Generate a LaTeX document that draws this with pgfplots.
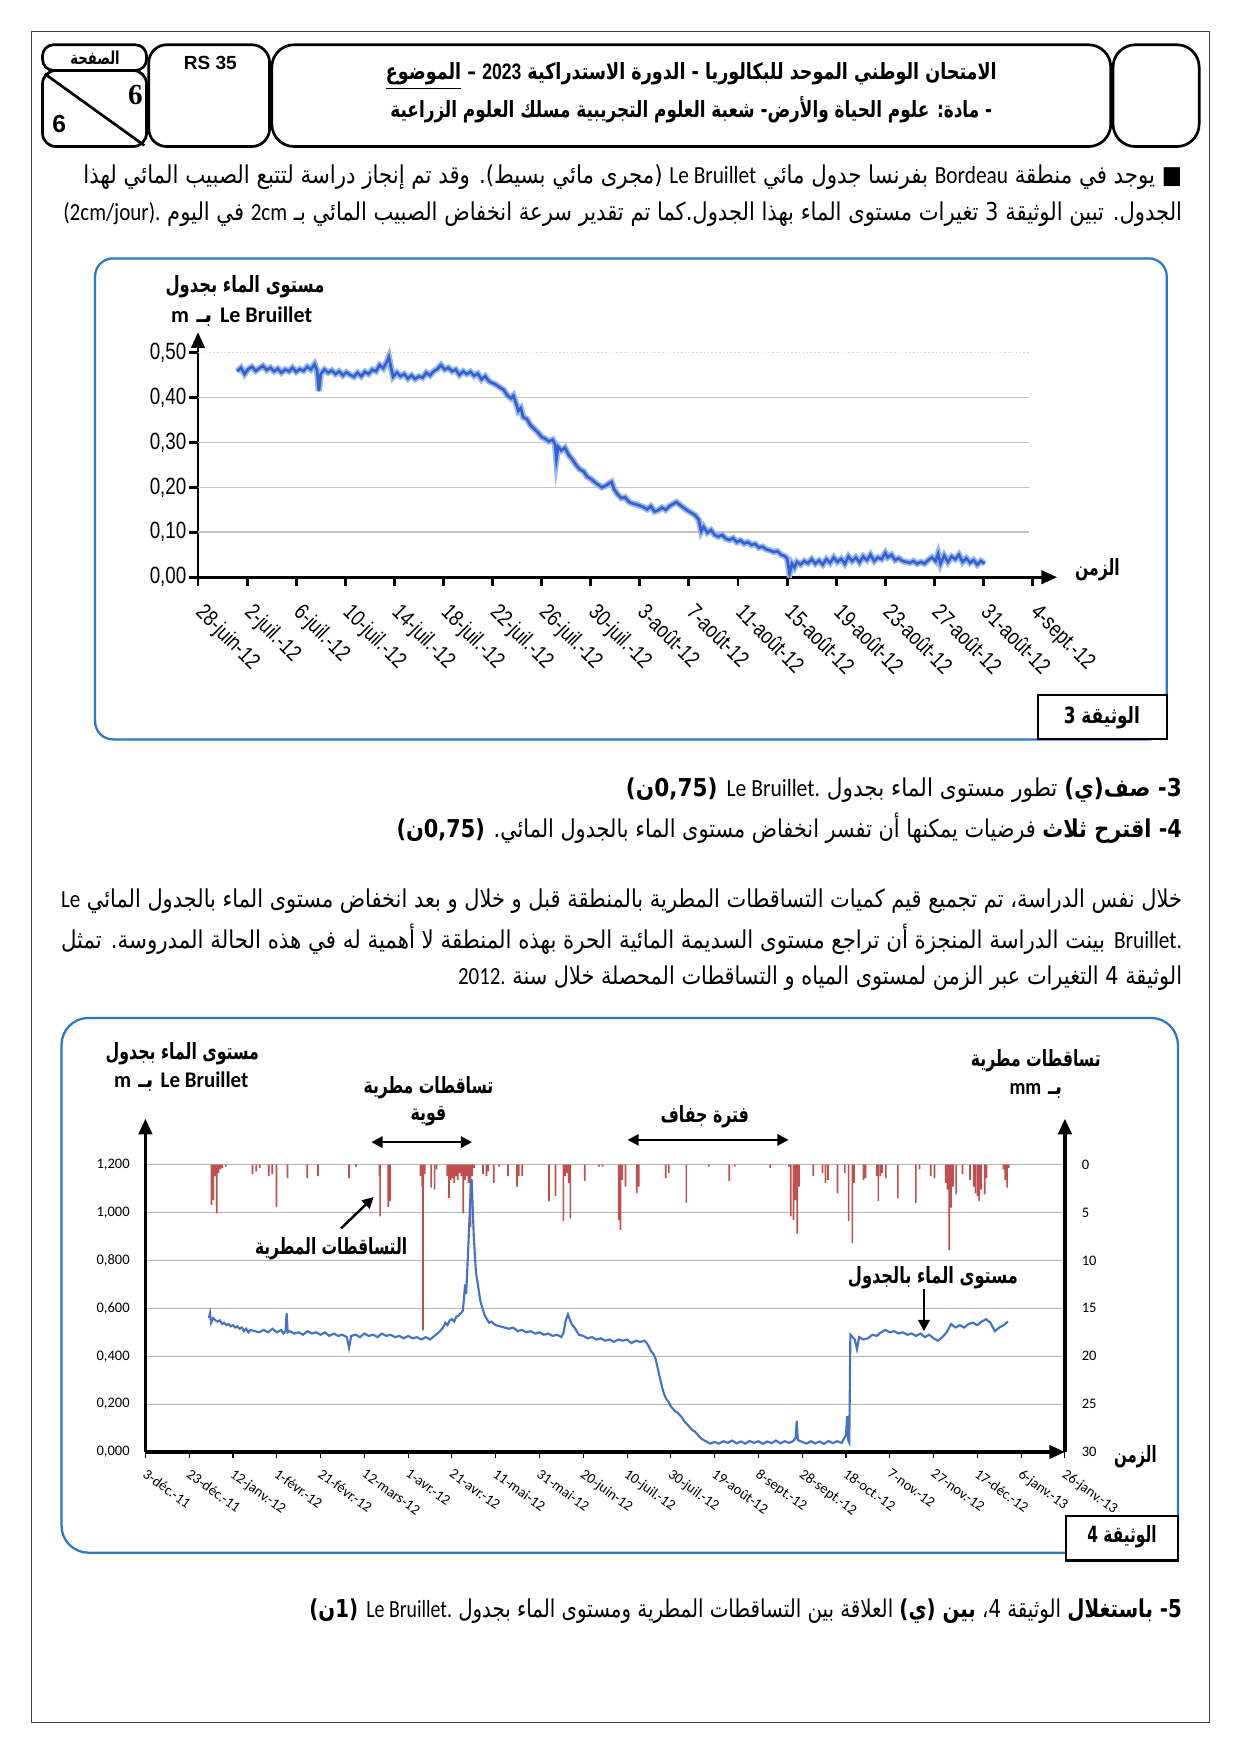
\documentclass[border=0pt]{standalone}
\usepackage{pgfplots}
\pgfplotsset{compat=1.18}
\usepackage{pgfplotstable}
\usepackage{graphicx}
\usepackage{fontspec}
\usetikzlibrary{arrows.meta}
\setmainfont{Carlito}
\newfontfamily\arabicfont[Script=Arabic]{DejaVu Sans}
\newfontfamily\latinfont{Carlito}
\newfontfamily\narrowfont[FakeStretch=0.8]{Liberation Sans}
\newfontfamily\arialfont{Liberation Sans}
\newfontfamily\timesfont{Liberation Serif}
\TeXXeTstate=1
\newcommand\LR[1]{\beginL{\latinfont #1}\endL}
\newcommand\AR[2]{\resizebox{#1}{\height}{\arabicfont #2}}
\definecolor{frameblue}{RGB}{40,120,200}
\definecolor{lineblue}{RGB}{55,95,205}
\definecolor{halo}{RGB}{150,185,240}
\definecolor{lvlblue}{RGB}{68,114,196}
\definecolor{rainred}{RGB}{192,80,77}
\definecolor{gridgray}{RGB}{195,195,195}

\pgfplotstableread{
d v
3.2 .458
3.5 .466
3.8 .452
4.1 .463
4.4 .468
4.7 .459
5.0 .465
5.3 .470
5.6 .461
5.9 .466
6.2 .458
6.5 .464
6.8 .455
7.1 .462
7.4 .458
7.7 .466
8.0 .457
8.3 .463
8.6 .459
8.9 .468
9.2 .462
9.5 .474
9.7 .460
9.85 .414
10.0 .452
10.3 .462
10.6 .455
10.9 .460
11.2 .452
11.5 .458
11.8 .449
12.1 .456
12.4 .450
12.7 .446
13.0 .455
13.3 .447
13.6 .457
13.9 .452
14.2 .462
14.5 .458
14.8 .472
15.1 .465
15.4 .480
15.55 .490
15.7 .470
15.9 .446
16.2 .455
16.5 .447
16.8 .452
17.1 .442
17.4 .449
17.7 .441
18.0 .447
18.3 .444
18.6 .455
18.9 .449
19.2 .458
19.5 .463
19.8 .472
20.1 .462
20.4 .466
20.7 .458
21.0 .462
21.3 .450
21.6 .458
21.9 .452
22.2 .457
22.5 .448
22.8 .453
23.1 .440
23.4 .447
23.7 .436
24.0 .432
24.3 .428
24.6 .422
24.9 .417
25.2 .405
25.5 .398
25.7 .404
25.9 .388
26.1 .370
26.3 .376
26.5 .356
26.8 .352
27.1 .338
27.4 .330
27.7 .322
28.0 .312
28.3 .308
28.6 .302
28.9 .306
29.1 .295
29.2 .262
29.35 .290
29.6 .282
29.9 .288
30.2 .272
30.5 .262
30.8 .250
31.1 .240
31.4 .236
31.7 .224
32.0 .219
32.3 .212
32.6 .206
32.9 .200
33.2 .203
33.5 .209
33.7 .212
33.9 .196
34.2 .184
34.5 .176
34.8 .178
35.1 .168
35.4 .164
35.7 .162
36.0 .159
36.3 .156
36.6 .151
36.9 .158
37.2 .146
37.5 .149
37.8 .155
38.1 .150
38.4 .158
38.7 .163
39.0 .167
39.3 .160
39.6 .154
39.9 .148
40.2 .143
40.5 .138
40.8 .128
41.0 .102
41.2 .112
41.5 .099
41.8 .105
42.1 .094
42.4 .090
42.7 .094
43.0 .086
43.3 .083
43.6 .087
43.9 .078
44.2 .082
44.5 .075
44.8 .078
45.1 .072
45.4 .074
45.7 .066
46.0 .068
46.3 .062
46.6 .060
46.9 .056
47.2 .058
47.5 .050
47.8 .047
48.0 .042
48.2 .008
48.4 .030
48.6 .022
48.8 .034
49.1 .028
49.4 .036
49.7 .031
50.0 .040
50.3 .030
50.6 .037
50.9 .028
51.2 .040
51.5 .032
51.8 .044
52.1 .034
52.4 .041
52.7 .030
53.0 .046
53.3 .036
53.6 .044
53.9 .033
54.2 .046
54.5 .038
54.8 .050
55.1 .036
55.4 .044
55.7 .040
56.0 .054
56.2 .044
56.5 .050
56.8 .038
57.1 .042
57.4 .036
57.7 .034
58.0 .032
58.3 .036
58.6 .030
58.9 .034
59.2 .030
59.5 .038
59.8 .044
60.1 .036
60.3 .052
60.5 .030
60.8 .048
61.1 .034
61.4 .046
61.7 .040
62.0 .050
62.3 .034
62.6 .042
62.9 .032
63.2 .038
63.5 .028
63.8 .036
64.1 .030
}\levelA

\pgfplotstableread{
d v
29 .56
29.5 .58
30 .54
31 .56
32 .55
33 .545
34 .55
35 .535
36 .54
37 .53
38 .535
39 .525
40 .53
41 .52
42 .525
43 .515
44 .52
45 .505
46 .515
47 .50
48 .51
50 .505
52 .50
54 .51
56 .50
58 .515
60 .50
62 .51
63 .495
64 .505
64.5 .58
65 .50
66 .505
68 .495
70 .50
72 .49
74 .505
76 .495
78 .50
80 .49
82 .50
84 .485
86 .495
88 .485
90 .49
92 .48
93 .435
94 .485
96 .49
98 .48
100 .495
102 .485
104 .49
106 .48
108 .495
110 .485
112 .49
114 .48
116 .485
118 .475
120 .485
122 .475
124 .48
126 .47
128 .48
130 .47
132 .485
134 .50
136 .52
137 .54
138 .53
139 .55
140 .555
141 .545
142 .565
143 .57
144 .58
145 .59
145.5 .64
146 .70
146.5 .66
147 .76
147.5 .86
148 .97
148.5 1.08
149 1.14
149.5 1.02
150 .90
150.5 .82
151 .75
152 .69
153 .63
154 .60
155 .57
156 .555
157 .54
158 .545
160 .53
162 .525
164 .52
166 .515
168 .52
170 .505
172 .51
174 .50
176 .505
178 .495
180 .50
182 .49
184 .495
186 .485
188 .49
190 .48
191 .50
192 .55
193 .575
194 .55
195 .53
196 .52
197 .505
198 .49
200 .485
202 .475
204 .48
206 .47
208 .475
210 .465
212 .47
214 .46
216 .47
218 .465
220 .47
222 .455
224 .465
226 .46
228 .465
229 .455
230 .44
231 .42
232 .41
233 .39
234 .35
235 .31
236 .27
237 .24
238 .22
239 .21
240 .19
241 .18
242 .17
243 .165
244 .155
245 .145
246 .13
247 .12
248 .11
249 .10
250 .09
251 .085
252 .075
253 .065
254 .055
255 .05
256 .045
257 .04
258 .035
260 .042
262 .035
264 .045
266 .038
268 .048
270 .036
272 .044
274 .035
276 .046
278 .038
280 .045
282 .034
284 .044
286 .037
288 .048
290 .036
292 .045
294 .038
296 .046
297 .06
297.5 .13
298 .05
300 .042
302 .035
304 .045
306 .036
308 .044
310 .034
312 .046
314 .037
316 .045
318 .038
320 .07
320.5 .15
321 .05
321.5 .04
322 .49
323 .48
324 .47
325 .43
326 .48
328 .47
330 .475
332 .49
334 .485
336 .50
338 .51
340 .50
342 .505
344 .495
346 .50
348 .49
350 .495
352 .485
354 .495
356 .48
358 .49
360 .475
362 .465
364 .48
366 .50
368 .535
370 .52
372 .53
374 .52
376 .535
378 .54
380 .53
382 .545
384 .555
386 .54
388 .505
390 .52
392 .53
394 .545
}\levelB

\pgfplotstableread{
d r
30.2 4.2
31.0 3.7
31.8 1.2
32.6 5.1
33.4 0.9
34.3 0.5
35.1 0.35
36.7 0.2
48.9 1.0
50.6 0.7
52.2 0.35
56.3 1.2
57.9 1.0
59.9 4.4
64.9 1.4
73.9 1.4
78.8 1.2
93.0 1.4
96.2 0.2
106.9 1.2
107.2 5.4
110.9 4.4
111.7 3.8
125.6 1.2
126.4 2.3
126.8 17.3
127.6 1.0
130.5 2.4
132.1 2.6
133.0 0.5
137.8 1.2
138.7 3.5
139.5 1.6
140.3 1.4
141.1 1.9
141.9 1.2
142.7 1.6
143.6 0.9
144.4 1.2
145.2 5.1
146.0 1.6
146.8 1.2
147.6 1.9
148.5 6.5
149.3 1.2
150.1 0.35
154.2 1.0
155.8 1.2
156.6 0.7
159.1 1.9
161.5 0.2
165.6 1.2
169.7 2.3
170.5 1.2
172.1 1.2
184.3 3.8
187.3 3.3
190.9 5.9
191.7 1.2
192.5 0.9
193.3 1.9
194.1 5.6
200.7 1.7
207.2 0.2
208.8 0.2
216.2 5.8
217.0 6.8
217.8 1.6
219.3 2.3
224.4 3.0
225.3 2.3
237.7 1.4
239.1 0.9
247.1 4.0
257.3 0.2
266.7 1.7
269.2 0.2
285.4 0.35
293.9 0.2
294.8 5.4
296.0 5.8
296.8 3.7
297.7 7.2
298.5 2.3
305.0 1.2
309.3 0.9
310.6 1.9
311.8 1.6
316.1 3.0
319.5 0.9
321.2 5.9
322.9 8.2
323.7 1.9
328.0 1.6
328.9 1.4
334.0 1.2
334.8 3.8
335.7 1.2
336.5 0.9
338.2 1.4
343.7 3.5
351.9 4.0
353.6 0.5
358.7 1.2
360.4 1.4
365.5 1.9
366.3 2.6
367.2 8.9
368.0 4.5
368.9 2.3
370.3 3.1
373.2 1.0
376.6 1.6
378.3 2.3
379.1 3.0
380.0 3.3
380.8 3.8
381.7 2.6
383.4 3.1
384.2 1.4
391.9 0.5
392.7 1.6
393.6 2.4
394.4 0.35
}\rain

\begin{document}
\begin{tikzpicture}[x=0.5pt,y=-0.5pt]
\path[use as bounding box, fill=white] (0,0) rectangle (1109,1568);
\draw[line width=0.6pt, black!75] (28,28) rectangle (1081,1540);

% ---------- header ----------
\draw[line width=1.2pt, rounded corners=5pt] (38,40) rectangle (131,63);
\draw[line width=1.2pt, rounded corners=6pt] (38,63) rectangle (131,131);
\draw[line width=1.2pt] (40,66) -- (129,130);
\draw[line width=1.2pt, rounded corners=8pt] (133,40) rectangle (241,131);
\draw[line width=1.2pt, rounded corners=10pt] (243,40) rectangle (993,131);
\draw[line width=1.2pt, rounded corners=10pt] (995,40) rectangle (1072,131);
\node at (85,52) {\fontsize{8}{8}\selectfont\bfseries\AR{22pt}{\beginR الصفحة\endR}};
\node at (121,85) {\timesfont\bfseries\fontsize{13}{13}\selectfont 6};
\node at (53,111) {\arialfont\bfseries\fontsize{11}{11}\selectfont 6};
\node at (188,56) {\arialfont\bfseries\fontsize{8.5}{10}\selectfont RS 35};
\node at (618,68) {\fontsize{10}{12}\selectfont\bfseries\AR{273pt}{\beginR الامتحان الوطني الموحد للبكالوريا - الدورة الاستدراكية \beginL{\arialfont 2023}\endL{} – \underline{الموضوع}\endR}};
\node at (618,98) {\fontsize{10}{12}\selectfont\bfseries\AR{269pt}{\beginR - مادة: علوم الحياة والأرض- شعبة العلوم التجريبية مسلك العلوم الزراعية\endR}};

% ---------- paragraph 1 ----------
\node[anchor=east, inner sep=0pt] at (1057,158) {\fontsize{11}{13}\selectfont\AR{491pt}{\beginR ■ يوجد في منطقة \LR{Bordeau} بفرنسا جدول مائي \LR{Le Bruillet} (مجرى مائي بسيط). وقد تم إنجاز دراسة لتتبع الصبيب المائي لهذا\endR}};
\node[anchor=east, inner sep=0pt] at (1057,191) {\fontsize{11}{13}\selectfont\AR{500pt}{\beginR الجدول. تبين الوثيقة 3 تغيرات مستوى الماء بهذا الجدول.كما تم تقدير سرعة انخفاض الصبيب المائي بـ \LR{2cm} في اليوم \LR{(2cm/jour).}\endR}};

% ---------- document 3 ----------
\draw[frameblue, line width=1pt, rounded corners=8pt] (85,231) rectangle (1043,661);
\begin{axis}[
  at={(88.5pt,-258pt)}, anchor=south west,
  scale only axis, width=384pt, height=109.5pt,
  xmin=0, xmax=70, ymin=0, ymax=0.545,
  axis lines=left,
  axis line style={line width=1.3pt, -{Triangle[length=7pt,width=6pt]}},
  xtick={0,4,...,68},
  xticklabels={28-juin-12,2-juil.-12,6-juil.-12,10-juil.-12,14-juil.-12,18-juil.-12,22-juil.-12,26-juil.-12,30-juil.-12,3-août-12,7-août-12,11-août-12,15-août-12,19-août-12,23-août-12,27-août-12,31-août-12,4-sept.-12},
  ytick={0,0.1,0.2,0.3,0.4,0.5},
  yticklabels={{0,00},{0,10},{0,20},{0,30},{0,40},{0,50}},
  tick align=outside, major tick length=4pt,
  tick style={black, line width=1.3pt},
  xticklabel style={font=\narrowfont\fontsize{10}{10}\selectfont, inner sep=0pt, xshift=3.7pt, yshift=-7pt, rotate=-45, anchor=north west},
  yticklabel style={font=\narrowfont\fontsize{10.5}{10}\selectfont, inner sep=1pt},
]
\draw[gridgray, line width=0.7pt] (axis cs:0,0.1) -- (axis cs:67.7,0.1);
\draw[gridgray, line width=0.7pt] (axis cs:0,0.2) -- (axis cs:67.7,0.2);
\draw[gridgray, line width=0.7pt] (axis cs:0,0.3) -- (axis cs:67.7,0.3);
\draw[gridgray, line width=0.7pt] (axis cs:0,0.4) -- (axis cs:67.7,0.4);
\draw[gridgray!70, line width=0.7pt, densely dotted] (axis cs:0,0.5) -- (axis cs:67.7,0.5);
\addplot[halo, line width=2.8pt, no markers] table[x=d, y=v] {\levelA};
\addplot[lineblue, line width=1.2pt, no markers] table[x=d, y=v] {\levelA};
\end{axis}
\node at (219,256) {\fontsize{10}{12}\selectfont\bfseries\AR{71pt}{\beginR مستوى الماء بجدول\endR}};
\node at (216,283) {\fontsize{10}{12}\selectfont\bfseries\AR{63pt}{\beginR\LR{Le Bruillet} بـ \LR{m}\endR}};
\node at (981,509) {\fontsize{10}{12}\selectfont\bfseries\AR{20pt}{\beginR الزمن\endR}};
\draw[line width=0.9pt, fill=white] (928,621) rectangle (1043,661);
\node at (985,642) {\fontsize{10}{12}\selectfont\bfseries\AR{34pt}{\beginR الوثيقة 3\endR}};

% ---------- questions ----------
\node[anchor=east, inner sep=0pt] at (1057,706) {\fontsize{11}{13}\selectfont\AR{248.5pt}{\beginR\textbf{3- صف(ي)} تطور مستوى الماء بجدول \LR{Le Bruillet.} \textbf{(0,75ن)}\endR}};
\node[anchor=east, inner sep=0pt] at (1057,740) {\fontsize{11}{13}\selectfont\AR{351pt}{\beginR\textbf{4- اقترح ثلاث} فرضيات يمكنها أن تفسر انخفاض مستوى الماء بالجدول المائي. \textbf{(0,75ن)}\endR}};

% ---------- paragraph 2 ----------
\node[anchor=east, inner sep=0pt] at (1057,806) {\fontsize{11}{13}\selectfont\AR{501pt}{\beginR خلال نفس الدراسة، تم تجميع قيم كميات التساقطات المطرية بالمنطقة قبل و خلال و بعد انخفاض مستوى الماء بالجدول المائي \LR{Le}\endR}};
\node[anchor=east, inner sep=0pt] at (1057,840) {\fontsize{11}{13}\selectfont\AR{501pt}{\beginR\LR{Bruillet.} بينت الدراسة المنجزة أن تراجع مستوى السديمة المائية الحرة بهذه المنطقة لا أهمية له في هذه الحالة المدروسة. تمثل\endR}};
\node[anchor=east, inner sep=0pt] at (1057,874) {\fontsize{11}{13}\selectfont\AR{323.5pt}{\beginR الوثيقة 4 التغيرات عبر الزمن لمستوى المياه و التساقطات المحصلة خلال سنة \LR{2012.}\endR}};

% ---------- document 4 ----------
\draw[frameblue, line width=1pt, rounded corners=12pt] (55,910) rectangle (1053,1388);
\begin{axis}[
  at={(65pt,-649pt)}, anchor=south west,
  scale only axis, width=411pt, height=149pt,
  xmin=0, xmax=420, ymin=-30, ymax=4.8,
  axis x line=none, axis y line=right,
  y axis line style={line width=1.4pt, -{Triangle[length=7pt,width=6pt]}},
  xtick=\empty,
  ytick={-30,-25,-20,-15,-10,-5,0},
  yticklabels={30,25,20,15,10,5,0},
  major tick length=0pt,
  ymajorgrids, grid style={gray!60, line width=0.5pt},
  yticklabel style={font=\fontsize{6.5}{7}\selectfont, anchor=west, xshift=4pt},
]
\addplot[ybar, bar width=0.75pt, fill=rainred, draw=none] table[x=d, y expr=-\thisrow{r}] {\rain};
\end{axis}
\begin{axis}[
  at={(65pt,-649pt)}, anchor=south west,
  scale only axis, width=411pt, height=149pt,
  xmin=0, xmax=420, ymin=0, ymax=1.393,
  axis x line=bottom, axis y line=left,
  axis line style={line width=1.4pt, -{Triangle[length=7pt,width=6pt]}},
  xtick={0,20,...,420},
  xticklabels={3-déc.-11,23-déc.-11,12-janv.-12,1-févr.-12,21-févr.-12,12-mars-12,1-avr.-12,21-avr.-12,11-mai-12,31-mai-12,20-juin-12,10-juil.-12,30-juil.-12,19-août-12,8-sept.-12,28-sept.-12,18-oct.-12,7-nov.-12,27-nov.-12,17-déc.-12,6-janv.-13,26-janv.-13},
  ytick={0,0.2,0.4,0.6,0.8,1.0,1.2},
  yticklabels={{0,000},{0,200},{0,400},{0,600},{0,800},{1,000},{1,200}},
  tick align=outside, major tick length=2.5pt,
  x tick style={black, line width=0.5pt},
  y tick style={draw=none},
  xticklabel style={font=\fontsize{6.5}{7}\selectfont, inner sep=0pt, xshift=1pt, yshift=-4.5pt, rotate=-36, anchor=north west},
  yticklabel style={font=\fontsize{6.5}{7}\selectfont, xshift=-1pt},
]
\addplot[lvlblue, line width=0.95pt, no markers] table[x=d, y=v] {\levelB};
\end{axis}
\node at (163,942) {\fontsize{10}{12}\selectfont\bfseries\AR{68.5pt}{\beginR مستوى الماء بجدول\endR}};
\node at (162,967) {\fontsize{10}{12}\selectfont\bfseries\AR{60pt}{\beginR\LR{Le Bruillet} بـ \LR{m}\endR}};
\node at (926,948) {\fontsize{10}{12}\selectfont\bfseries\AR{58pt}{\beginR تساقطات مطرية\endR}};
\node at (926,975) {\fontsize{10}{12}\selectfont\bfseries\AR{23.5pt}{\beginR بـ \LR{mm}\endR}};
\node at (383,972) {\fontsize{10}{12}\selectfont\bfseries\AR{58pt}{\beginR تساقطات مطرية\endR}};
\node at (383,998) {\fontsize{10}{12}\selectfont\bfseries\AR{16pt}{\beginR قوية\endR}};
\node at (630,998) {\fontsize{10}{12}\selectfont\bfseries\AR{39.5pt}{\beginR فترة جفاف\endR}};
\node at (296,1116) {\fontsize{10}{12}\selectfont\bfseries\AR{68pt}{\beginR التساقطات المطرية\endR}};
\node at (834,1142) {\fontsize{10}{12}\selectfont\bfseries\AR{76pt}{\beginR مستوى الماء بالجدول\endR}};
\node at (1015,1302) {\fontsize{10}{12}\selectfont\bfseries\AR{19pt}{\beginR الزمن\endR}};
\draw[line width=1.1pt, {Triangle[length=5pt,width=5pt]}-{Triangle[length=5pt,width=5pt]}] (332,1021) -- (422,1021);
\draw[line width=1.1pt, {Triangle[length=5pt,width=5pt]}-{Triangle[length=5pt,width=5pt]}] (561,1019) -- (705,1019);
\draw[line width=1.1pt, -{Triangle[length=5pt,width=5pt]}] (305,1098) -- (334,1070);
\draw[line width=1.1pt, -{Triangle[length=5pt,width=5pt]}] (826,1152) -- (826,1190);
\draw[line width=0.9pt, fill=white] (953,1355) rectangle (1053,1395);
\node at (1003,1374) {\fontsize{10}{12}\selectfont\bfseries\AR{31pt}{\beginR الوثيقة 4\endR}};

% ---------- question 5 ----------
\node[anchor=east, inner sep=0pt] at (1057,1440) {\fontsize{11}{13}\selectfont\AR{390pt}{\beginR\textbf{5- باستغلال} الوثيقة 4، \textbf{بين (ي)} العلاقة بين التساقطات المطرية ومستوى الماء بجدول \LR{Le Bruillet.} \textbf{(1ن)}\endR}};
\end{tikzpicture}
\end{document}
